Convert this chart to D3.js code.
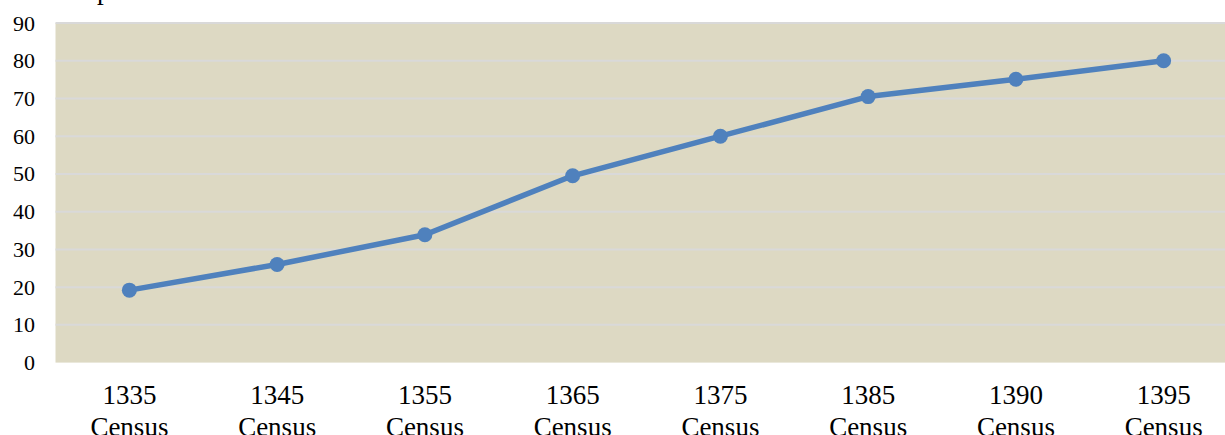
<!DOCTYPE html>
<html>
<head>
<meta charset="utf-8">
<style>
body { margin: 0; background: #fff; overflow: hidden; }
svg { display: block; }
.tick text { font-family: "Liberation Serif", "Times New Roman", serif; fill: #000; }
</style>
</head>
<body>
<script src="https://cdn.jsdelivr.net/npm/d3@7"></script>
<script>
var years = ["1335", "1345", "1355", "1365", "1375", "1385", "1390", "1395"];
var labelSuffix = "Census";
var values = [19.2, 26.0, 33.9, 49.5, 60.0, 70.5, 75.1, 80.0];
var yTicks = [0, 10, 20, 30, 40, 50, 60, 70, 80, 90];

var width = 1225, height = 435;

var svg = d3.select("body").append("svg")
	.attr("width", width)
	.attr("height", height);

var x = d3.scaleBand()
	.domain(years)
	.range([55.5, 1237.5]);

var y = d3.scaleLinear()
	.domain([0, 90])
	.range([362.6, 23]);

// plot background
svg.append("rect")
	.attr("x", x.range()[0])
	.attr("y", y(90))
	.attr("width", x.range()[1] - x.range()[0])
	.attr("height", y(0) - y(90))
	.attr("fill", "#ddd9c3");

// gridlines
svg.append("g")
	.selectAll("line")
	.data(yTicks.slice(1))
	.enter()
	.append("line")
	.attr("x1", x.range()[0])
	.attr("x2", x.range()[1])
	.attr("y1", function(d) { return y(d); })
	.attr("y2", function(d) { return y(d); })
	.attr("stroke", "#d9d9d9")
	.attr("stroke-width", 2);

// y axis
var yAxis = svg.append("g")
	.attr("transform", "translate(35,0)")
	.call(d3.axisLeft(y).tickValues(yTicks).tickSize(0).tickPadding(0));
yAxis.select(".domain").remove();
yAxis.selectAll("text").style("font-size", "22px");

// x axis (two-line labels, second line runs off the bottom like the original)
var xAxis = svg.append("g")
	.attr("transform", "translate(0," + y(0) + ")")
	.call(d3.axisBottom(x).tickSize(0).tickFormat(""));
xAxis.select(".domain").remove();
xAxis.selectAll(".tick text").remove();
xAxis.selectAll(".tick").each(function(d) {
	var t = d3.select(this).append("text")
		.attr("text-anchor", "middle")
		.style("font-size", "27px");
	t.append("tspan").attr("x", 0).attr("y", 41).text(d);
	t.append("tspan").attr("x", 0).attr("y", 73).text(labelSuffix);
});

// line
var line = d3.line()
	.x(function(d, i) { return x(years[i]) + x.bandwidth() / 2; })
	.y(function(d) { return y(d); });

svg.append("path")
	.datum(values)
	.attr("fill", "none")
	.attr("stroke", "#4f81bd")
	.attr("stroke-width", 5.5)
	.attr("stroke-linejoin", "round")
	.attr("d", line);

svg.append("g")
	.selectAll("circle")
	.data(values)
	.enter()
	.append("circle")
	.attr("cx", function(d, i) { return x(years[i]) + x.bandwidth() / 2; })
	.attr("cy", function(d) { return y(d); })
	.attr("r", 7.5)
	.attr("fill", "#4f81bd");

// title cut off at the top edge
svg.append("text")
	.attr("x", 97)
	.attr("y", -1)
	.style("font-family", "'Liberation Serif', serif")
	.style("font-size", "27px")
	.text("p");
</script>
</body>
</html>
